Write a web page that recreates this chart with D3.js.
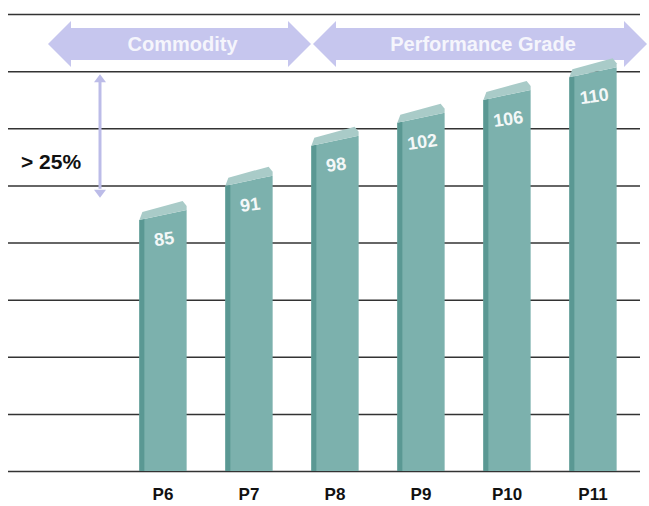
<!DOCTYPE html>
<html>
<head>
<meta charset="utf-8">
<script src="https://cdn.jsdelivr.net/npm/d3@7"></script>
<style>
  body { margin: 0; background: #fff; }
  text { font-family: "Liberation Sans", Arial, sans-serif; }
</style>
</head>
<body>
<div id="chart"></div>
<script>
// chart data
var grades = ["P6", "P7", "P8", "P9", "P10", "P11"];
var values = [85, 91, 98, 102, 106, 110];
var gridValues = [40, 50, 60, 70, 80, 90, 100, 110, 120];
var headers = ["Commodity", "Performance Grade"];
var gapLabel = "> 25%";
var gapFrom = 88, gapTo = 110;

var width = 649, height = 506;

var svg = d3.select("#chart")
  .append("svg")
  .attr("width", width)
  .attr("height", height);

var x = d3.scaleBand()
  .domain(grades)
  .range([120, 636])
  .paddingInner(0.45)
  .paddingOuter(0.225);

var y = d3.scaleLinear()
  .domain([40, 120])
  .range([471, 14]);

// gridlines
var grid = d3.axisLeft(y)
  .tickValues(gridValues)
  .tickSize(632)
  .tickFormat("");

svg.append("g")
  .attr("transform", "translate(640,0)")
  .call(grid)
  .call(function(g) {
    g.select(".domain").remove();
    g.selectAll(".tick line")
      .attr("stroke", "#333")
      .attr("stroke-width", 1.5);
  });

// header arrows
function dblArrow(x0, x1) {
  var cy = 44, hw = 23, bt = 28, bb = 60, ht = 21, hb = 67;
  return [[x0, cy], [x0 + hw, ht], [x0 + hw, bt], [x1 - hw, bt], [x1 - hw, ht],
          [x1, cy], [x1 - hw, hb], [x1 - hw, bb], [x0 + hw, bb], [x0 + hw, hb]];
}
var headerSpans = [[48, 311], [313, 647]];
var hdr = svg.append("g").attr("class", "headers");
hdr.selectAll("polygon")
  .data(headers)
  .enter()
  .append("polygon")
  .attr("points", function(d, i) {
    return dblArrow(headerSpans[i][0], headerSpans[i][1]).join(" ");
  })
  .attr("fill", "#c6c6ee");
hdr.selectAll("text")
  .data(headers)
  .enter()
  .append("text")
  .attr("x", function(d, i) { return (headerSpans[i][0] + headerSpans[i][1]) / 2 + 3; })
  .attr("y", 51)
  .attr("text-anchor", "middle")
  .attr("font-size", 20)
  .attr("font-weight", "bold")
  .attr("fill", "#f5f5fc")
  .text(function(d) { return d; });

// > 25% arrow
var ax = 100;
var gap = svg.append("g");
gap.append("line")
  .attr("x1", ax).attr("x2", ax)
  .attr("y1", y(gapTo) + 8).attr("y2", y(gapFrom) - 8)
  .attr("stroke", "#bcbce8")
  .attr("stroke-width", 3);
gap.append("polygon")
  .attr("points", [[ax, y(gapTo) + 3], [ax - 6, y(gapTo) + 11], [ax + 6, y(gapTo) + 11]].join(" "))
  .attr("fill", "#bcbce8");
gap.append("polygon")
  .attr("points", [[ax, y(gapFrom) + 1], [ax - 6, y(gapFrom) - 7], [ax + 6, y(gapFrom) - 7]].join(" "))
  .attr("fill", "#bcbce8");
gap.append("text")
  .attr("x", 21)
  .attr("y", 169)
  .attr("font-size", 21)
  .attr("font-weight", "bold")
  .attr("fill", "#111")
  .text(gapLabel);

// bars
var base = y(40);
var bars = svg.append("g").attr("class", "bars")
  .selectAll("g")
  .data(values)
  .enter()
  .append("g");

bars.append("polygon")
  .attr("points", function(d, i) {
    var x0 = x(grades[i]), x1 = x0 + x.bandwidth(), t = y(d);
    return [[x0, base], [x0, t + 6], [x1, t - 4], [x1, base]].join(" ");
  })
  .attr("fill", "#7cb1ad");

bars.append("polygon")
  .attr("points", function(d, i) {
    var x0 = x(grades[i]), t = y(d);
    return [[x0, base], [x0, t + 6], [x0 + 5, t + 5], [x0 + 5, base]].join(" ");
  })
  .attr("fill", "#5a9893");

bars.append("polygon")
  .attr("points", function(d, i) {
    var x0 = x(grades[i]), x1 = x0 + x.bandwidth(), t = y(d);
    return [[x0, t + 6], [x0 + 3, t - 2], [x1 - 4, t - 13], [x1, t - 8], [x1, t - 4]].join(" ");
  })
  .attr("fill", "#a9cbc8");

bars.append("text")
  .attr("transform", function(d, i) {
    var cx = x(grades[i]) + x.bandwidth() / 2 + 2;
    return "translate(" + cx + "," + (y(d) + 31) + ") rotate(-8)";
  })
  .attr("text-anchor", "middle")
  .attr("font-size", 18)
  .attr("font-weight", "bold")
  .attr("fill", "#f4f8f8")
  .text(function(d) { return d; });

// category labels
svg.append("g")
  .selectAll("text")
  .data(grades)
  .enter()
  .append("text")
  .attr("x", function(d) { return x(d) + x.bandwidth() / 2; })
  .attr("y", 500)
  .attr("text-anchor", "middle")
  .attr("font-size", 17)
  .attr("font-weight", "bold")
  .attr("fill", "#111")
  .text(function(d) { return d; });
</script>
</body>
</html>
